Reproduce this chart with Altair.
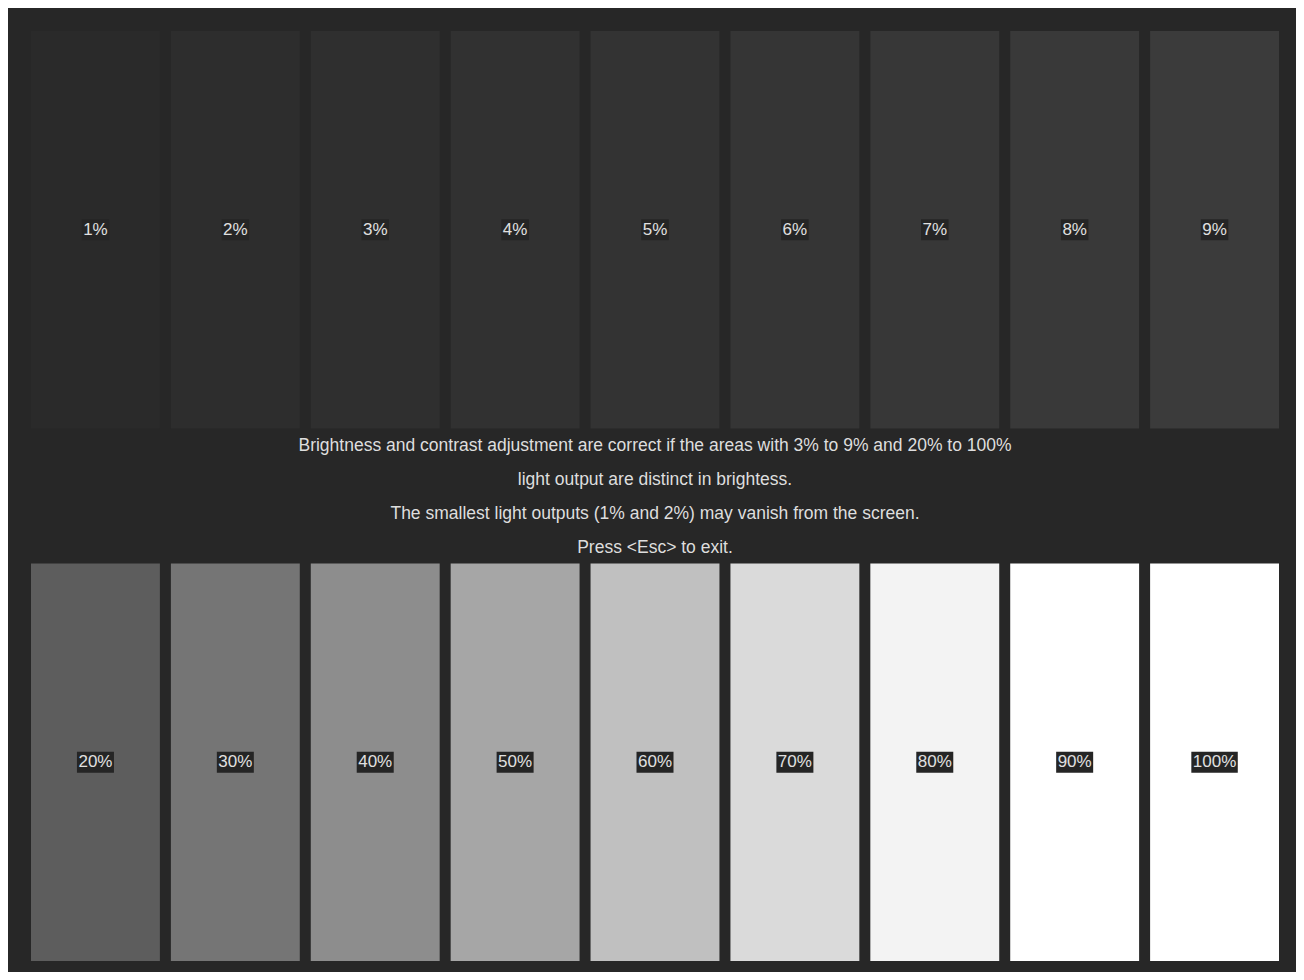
import altair as alt
import pandas as pd

# ---- data ----
labels_top = ["1%", "2%", "3%", "4%", "5%", "6%", "7%", "8%", "9%"]
colors_top = ["#2a2a2a", "#2d2d2d", "#2f2f2f", "#313131", "#333333",
              "#353535", "#373737", "#393939", "#3b3b3b"]
labels_bottom = ["20%", "30%", "40%", "50%", "60%", "70%", "80%", "90%", "100%"]
colors_bottom = ["#5d5d5d", "#757575", "#8d8d8d", "#a6a6a6", "#c0c0c0",
                 "#dadada", "#f3f3f3", "#ffffff", "#ffffff"]
info_lines = [
    "Brightness and contrast adjustment are correct if the areas with 3% to 9% and 20% to 100%",
    "light output are distinct in brightess.",
    "The smallest light outputs (1% and 2%) may vanish from the screen.",
    "Press <Esc> to exit.",
]

rows = []
for i, (lab, col) in enumerate(zip(labels_top, colors_top)):
    rows.append({"row": 0, "col": i, "label": lab, "color": col})
for i, (lab, col) in enumerate(zip(labels_bottom, colors_bottom)):
    rows.append({"row": 1, "col": i, "label": lab, "color": col})
df = pd.DataFrame(rows)
info_df = pd.DataFrame({"idx": list(range(len(info_lines))), "line": info_lines})

# ---- layout / style ----
W, H = 1288, 964
BG = "#272727"
X_RANGE = [23, 1271]
Y_RANGE = [23, 953]
FONT = "Liberation Sans"

xs = alt.X("col:O", axis=None,
           scale=alt.Scale(type="band", range=X_RANGE, paddingInner=0.0786, paddingOuter=0))
ys = alt.Y("row:O", axis=None,
           scale=alt.Scale(type="band", range=Y_RANGE, paddingInner=0.2535, paddingOuter=0))

base = alt.Chart(df)

bars = base.mark_rect().encode(
    x=xs, y=ys, color=alt.Color("color:N", scale=None)
)

boxes = base.transform_calculate(
    hw="(length(datum.label) - 1) * 0.945 + 1.81",
).transform_calculate(
    path="'M' + (-datum.hw) + ',-2.1 L' + datum.hw + ',-2.1 L' + datum.hw + ',2.1 L' + (-datum.hw) + ',2.1 Z'"
).mark_point(filled=True, opacity=1, size=100, color="#252525", strokeWidth=0).encode(
    x=xs, y=ys, shape=alt.Shape("path:N", scale=None)
)

labels = base.mark_text(font=FONT, fontSize=17, color="#e0e0e0",
                        baseline="middle", align="center").encode(
    x=xs, y=ys, text="label:N"
)

info = alt.Chart(info_df).mark_text(font=FONT, fontSize=17.5, color="#dedede",
                                    baseline="middle", align="center").encode(
    x=alt.value((X_RANGE[0] + X_RANGE[1]) / 2),
    y=alt.Y("idx:Q", axis=None,
            scale=alt.Scale(domain=[0, 3], range=[438, 540], zero=False, nice=False)),
    text="line:N",
)

chart = alt.layer(bars, boxes, labels, info).resolve_scale(
    y="independent"
).properties(
    width=W, height=H, padding=0,
    autosize=alt.AutoSizeParams(type="none"),
    background=BG,
).configure_view(stroke=None)

chart.save("out.html", embed_options={"renderer": "svg", "actions": False})
